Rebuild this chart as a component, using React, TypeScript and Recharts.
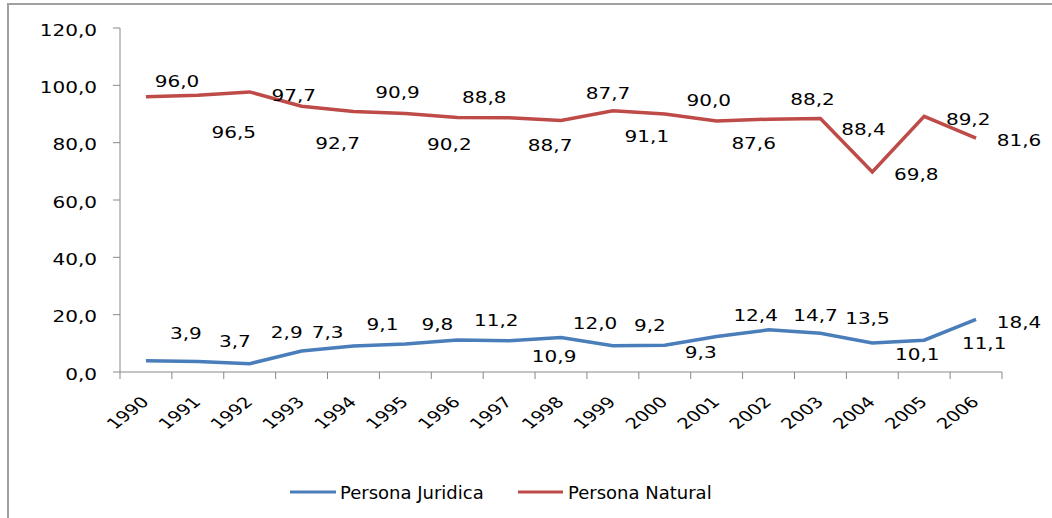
import { LineChart, Line, XAxis, YAxis, Legend, LabelList } from 'recharts';

const years = ['1990', '1991', '1992', '1993', '1994', '1995', '1996', '1997', '1998', '1999', '2000', '2001', '2002', '2003', '2004', '2005', '2006'];
const personaJuridica = [3.9, 3.7, 2.9, 7.3, 9.1, 9.8, 11.2, 10.9, 12.0, 9.2, 9.3, 12.4, 14.7, 13.5, 10.1, 11.1, 18.4];
const personaNatural = [96.0, 96.5, 97.7, 92.7, 90.9, 90.2, 88.8, 88.7, 87.7, 91.1, 90.0, 87.6, 88.2, 88.4, 69.8, 89.2, 81.6];
const yTicks = [0, 20, 40, 60, 80, 100, 120];

// hand-placed label offsets (px from point to label centre), like the original sheet
const juridicaLabelPos: [number, number][] = [
  [40, -28], [37, -20], [37, -32], [26, -19], [29, -22], [32, -20], [39, -20], [45, 15], [34, -15],
  [37, -21], [36, 7], [39, -21], [47, -15], [47, -15], [45, 11], [60, 3], [43, 3],
];
const naturalLabelPos: [number, number][] = [
  [31, -16], [36, 37], [44, 3], [36, 37], [44, -19], [44, 31], [27, -20], [41, 27], [47, -28],
  [34, 25], [44, -14], [37, 22], [44, -20], [43, 10], [44, 2], [44, 3], [43, 2],
];

const W = 1043;
const H = 513;
const MARGIN = { top: 23, right: 50, bottom: 0, left: 0 };
const Y_W = 111;
const PLOT_W = W - MARGIN.left - MARGIN.right - Y_W;
const BAND = PLOT_W / years.length;
const SX = 1.25; // the original picture is stretched sideways
const FONT = '"DejaVu Sans", sans-serif';
const AXIS = '#888888';
const BLUE = '#4A7EBB';
const RED = '#BE4B48';

const fmt = (v: number) => v.toFixed(1).replace('.', ',');

const data = years.map((year, i) => ({
  year,
  pos: i + 0.5,
  juridica: personaJuridica[i],
  natural: personaNatural[i],
}));

function XTick(props: any) {
  const { x, y, index } = props;
  if (index >= years.length) return <g />;
  return (
    <text
      transform={`translate(${x + BAND / 2 + 4},${y + 24}) scale(1.3,1) rotate(-45)`}
      textAnchor="end"
      fontSize={15}
      fontFamily={FONT}
      fill="#000"
    >
      {years[index]}
    </text>
  );
}

function YTick(props: any) {
  const { x, y, payload } = props;
  return (
    <text transform={`translate(${x},${y + 7.5}) scale(${SX},1)`} textAnchor="end" fontSize={16} fontFamily={FONT} fill="#000">
      {fmt(payload.value)}
    </text>
  );
}

const makeLabel = (offsets: [number, number][]) => (props: any) => {
  const { x, y, value, index } = props;
  const [dx, dy] = offsets[index];
  return (
    <text
      transform={`translate(${x + dx},${y + dy + 6}) scale(${SX},1)`}
      textAnchor="middle"
      fontSize={16}
      fontFamily={FONT}
      fill="#000"
    >
      {fmt(value)}
    </text>
  );
};

const renderLegend = () => (
  <svg width={500} height={26}>
    <line x1={1} y1={12} x2={47} y2={12} stroke={BLUE} strokeWidth={3} />
    <text transform={`translate(51,18.5) scale(1.06,1)`} fontSize={17} fontFamily={FONT} fill="#000">
      Persona Juridica
    </text>
    <line x1={229} y1={12} x2={274} y2={12} stroke={RED} strokeWidth={3} />
    <text transform={`translate(279,18.5) scale(1.06,1)`} fontSize={17} fontFamily={FONT} fill="#000">
      Persona Natural
    </text>
  </svg>
);

export default function App() {
  return (
    <div
      style={{
        position: 'absolute',
        left: 7,
        top: 3,
        width: W,
        height: H,
        borderTop: '2px solid #a0a0a0',
        borderLeft: '2px solid #a0a0a0',
        background: '#fff',
      }}
    >
      <LineChart width={W} height={H} data={data} margin={MARGIN} style={{ fontFamily: FONT }}>
        <XAxis
          dataKey="pos"
          type="number"
          domain={[0, years.length]}
          ticks={years.map((_, i) => i).concat(years.length)}
          interval={0}
          height={146}
          tickSize={7}
          tickMargin={0}
          stroke={AXIS}
          tick={<XTick />}
        />
        <YAxis
          domain={[0, 120]}
          ticks={yTicks}
          interval={0}
          width={Y_W}
          tickSize={7}
          tickMargin={16}
          stroke={AXIS}
          tick={<YTick />}
        />
        <Legend
          verticalAlign="middle"
          align="center"
          layout="horizontal"
          content={renderLegend}
          wrapperStyle={{ top: 475, left: 280, width: 500, height: 26 }}
        />
        <Line
          dataKey="juridica"
          name="Persona Juridica"
          type="linear"
          stroke={BLUE}
          strokeWidth={3.5}
          dot={false}
          activeDot={false}
          isAnimationActive={false}
        >
          <LabelList dataKey="juridica" content={makeLabel(juridicaLabelPos)} />
        </Line>
        <Line
          dataKey="natural"
          name="Persona Natural"
          type="linear"
          stroke={RED}
          strokeWidth={3.5}
          dot={false}
          activeDot={false}
          isAnimationActive={false}
        >
          <LabelList dataKey="natural" content={makeLabel(naturalLabelPos)} />
        </Line>
      </LineChart>
    </div>
  );
}
